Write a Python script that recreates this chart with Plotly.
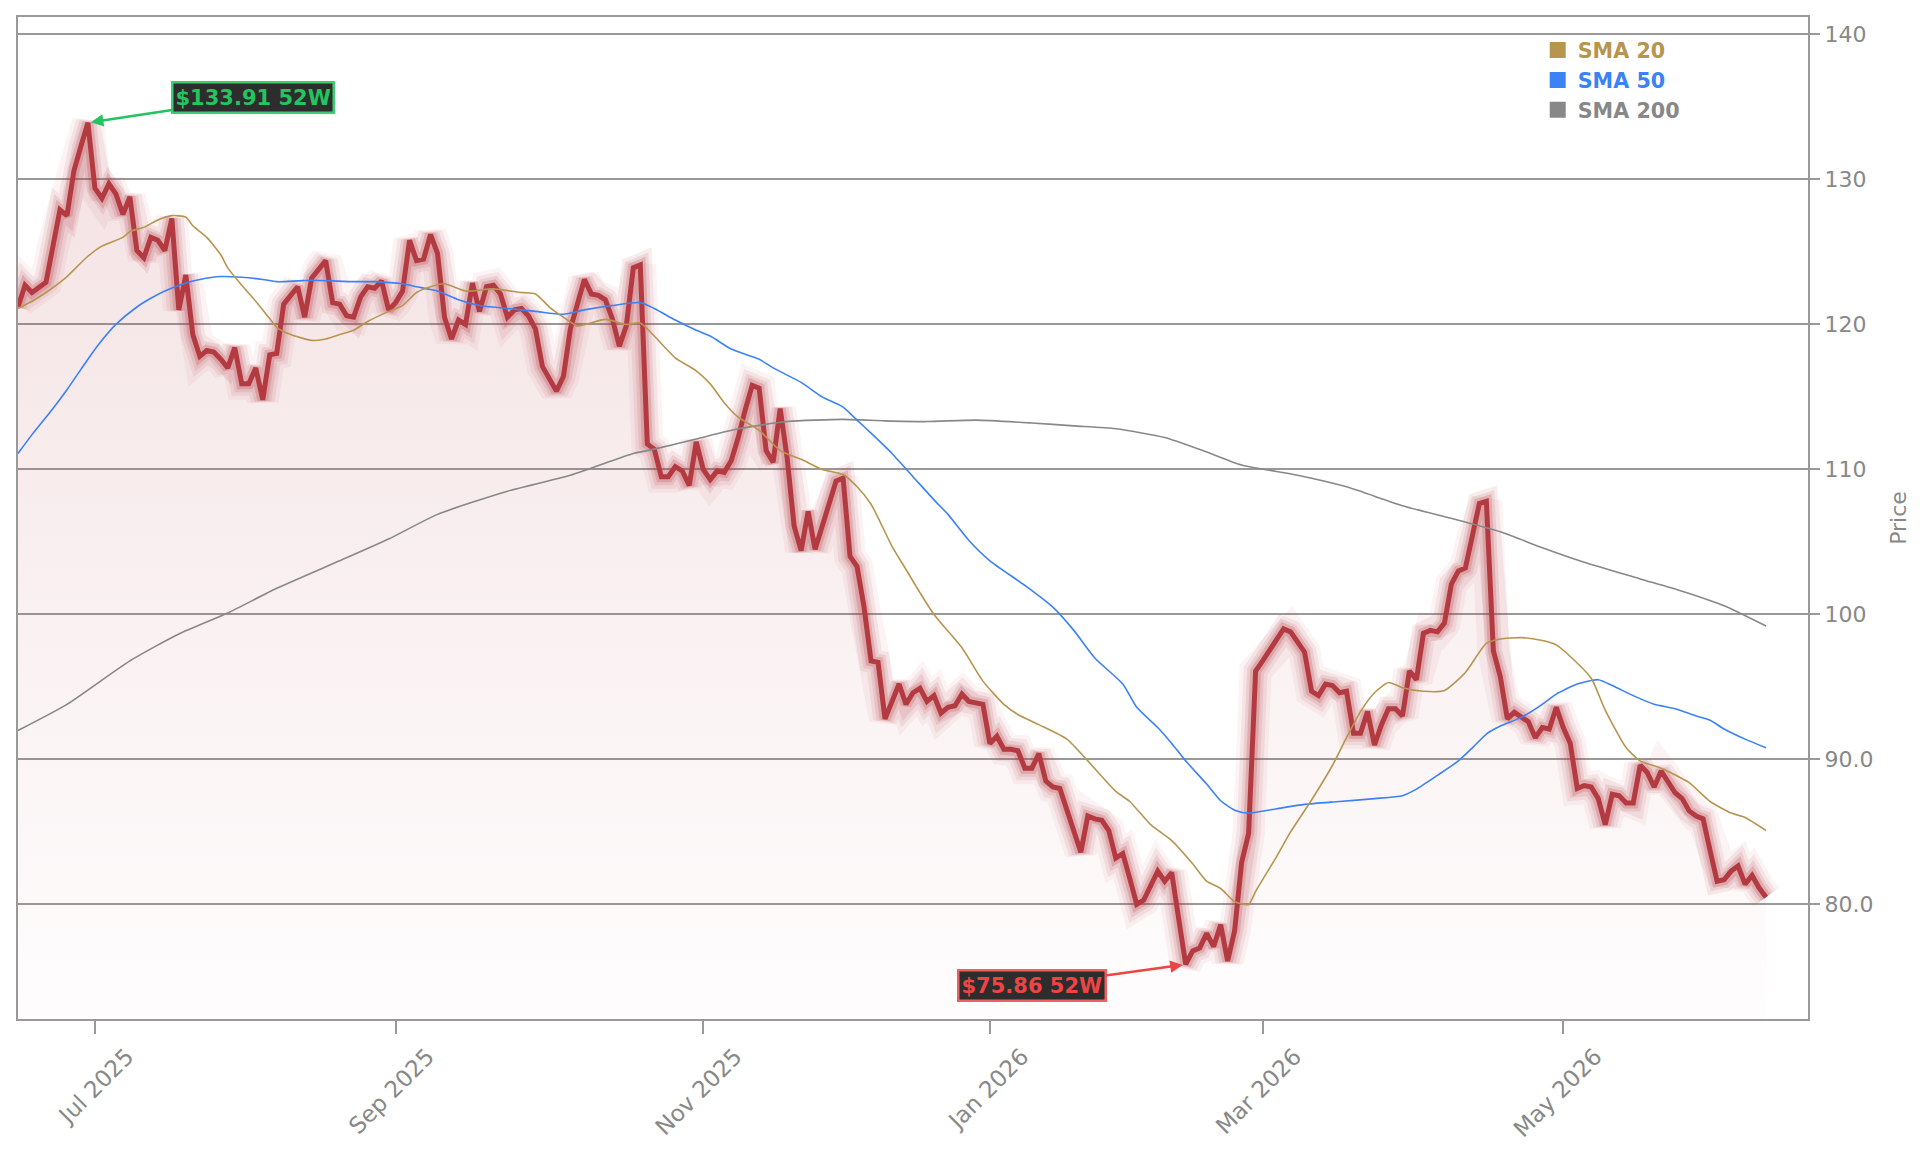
import pandas as pd
import plotly.graph_objects as go

# ---------------- data ----------------
start_date = "2025-06-13"
end_date = "2026-06-12"
holidays = ["2025-06-19", "2025-07-04", "2025-09-01", "2025-11-27", "2025-12-25",
            "2026-01-01", "2026-01-19", "2026-02-16", "2026-04-03", "2026-05-25",
            "2026-06-19"]

price = [
    121.2, 122.7, 122.2, 122.5, 122.9, 125.4, 127.9, 127.5, 130.6, 132.3,
    133.91, 129.4, 128.7, 129.7, 129.0, 127.6, 128.8, 125.1, 124.6, 126.0,
    125.8, 125.1, 127.3, 121.0, 123.4, 119.3, 117.8, 118.2, 118.1, 117.6,
    117.0, 118.4, 115.9, 115.9, 117.0, 114.8, 117.9, 118.0, 121.4, 122.0,
    122.6, 120.5, 123.2, 123.8, 124.4, 121.5, 121.4, 120.6, 120.5, 121.9,
    122.6, 122.5, 123.0, 121.0, 121.5, 122.3, 125.8, 124.4, 124.5, 126.2,
    124.9, 120.5, 119.0, 120.3, 120.0, 122.85, 120.9, 122.6, 122.7, 122.1,
    120.5, 121.0, 121.1, 120.6, 119.7, 117.1, 116.3, 115.4, 116.4, 119.7,
    121.4, 123.1, 122.1, 122.0, 121.7, 120.4, 118.5, 119.9, 123.9, 124.1,
    111.75, 111.4, 109.5, 109.5, 110.2, 109.9, 108.9, 111.9, 110.0, 109.3,
    109.9, 109.8, 110.6, 112.2, 114.1, 115.8, 115.6, 111.3, 110.5, 114.2,
    110.8, 106.1, 104.4, 107.1, 104.5, 106.1, 107.7, 109.2, 109.4, 104.0,
    103.3, 100.5, 96.8, 96.7, 92.8, 93.9, 95.2, 93.8, 94.6, 94.9,
    94.0, 94.4, 93.2, 93.6, 93.7, 94.5, 94.0, 93.9, 93.8, 91.1,
    91.6, 90.7, 90.7, 90.6, 89.4, 89.4, 90.4, 88.5, 88.1, 88.0,
    86.5, 85.0, 83.6, 86.1, 85.9, 85.8, 85.1, 83.2, 83.5, 81.8,
    80.0, 80.3, 81.3, 82.3, 81.6, 82.2, 79.0, 75.86, 76.8, 77.0,
    78.0, 77.1, 78.6, 76.1, 78.2, 82.9, 84.9, 96.1, 96.8, 97.5,
    98.3, 99.0, 98.8, 98.1, 97.4, 94.7, 94.4, 95.2, 95.1, 94.6,
    94.7, 91.8, 91.8, 93.3, 91.0, 92.4, 93.5, 93.5, 93.0, 96.1,
    95.5, 98.7, 98.9, 98.8, 99.4, 102.1, 103.0, 103.2, 105.3, 107.65,
    107.8, 97.5, 95.7, 92.8, 93.25, 92.9, 92.6, 91.5, 92.2, 92.1,
    93.6, 92.2, 91.1, 88.0, 88.2, 88.1, 87.3, 85.5, 87.6, 87.5,
    87.0, 87.0, 89.6, 89.1, 88.1, 89.2, 88.4, 87.7, 87.3, 86.45,
    86.1, 85.9, 83.7, 81.6, 81.7, 82.3, 82.65, 81.4, 82.0, 81.15,
    80.5,
]

sma20_idx = [0, 2, 4, 6, 7, 10, 12, 15, 16, 18, 20, 22, 24, 25, 27, 29, 30, 32, 34, 36,
             37, 39, 42, 44, 46, 48, 50, 53, 55, 57, 59, 61, 64, 68, 72, 74, 76, 78, 80, 84,
             87, 89, 91, 94, 97, 99, 101, 103, 106, 109, 112, 115, 118, 120, 122, 125, 127, 129, 131, 135,
             138, 141, 143, 146, 150, 153, 157, 159, 162, 165, 168, 170, 172, 174, 176, 177, 180, 182, 185, 188,
             190, 192, 194, 196, 198, 201, 204, 207, 210, 212, 215, 218, 220, 222, 225, 227, 230, 232, 235, 239,
             242, 245, 247, 250]
sma20_val = [121.1, 121.6, 122.2, 122.9, 123.3, 124.7, 125.4, 126.0, 126.4, 126.7, 127.2, 127.5, 127.4, 126.8, 126.0, 124.8, 123.9, 122.7, 121.6, 120.4,
             119.8, 119.3, 118.9, 119.0, 119.3, 119.6, 120.2, 120.9, 121.3, 122.2, 122.6, 122.8, 122.3, 122.45, 122.2, 122.1, 121.2, 120.5, 119.9, 120.35,
             120.0, 120.1, 119.2, 117.7, 116.8, 115.9, 114.6, 113.6, 112.7, 111.3, 110.7, 110.0, 109.65, 108.8, 107.6, 104.7, 103.1, 101.5, 100.0, 97.7,
             95.4, 93.8, 93.1, 92.4, 91.4, 89.9, 87.8, 87.1, 85.5, 84.4, 82.8, 81.6, 81.1, 80.2, 80.0, 80.9, 83.3, 85.0, 87.2, 89.6,
             91.5, 93.3, 94.6, 95.3, 94.95, 94.7, 94.75, 96.0, 98.0, 98.3, 98.4, 98.2, 97.9, 97.1, 95.6, 93.4, 90.8, 89.9, 89.4, 88.4,
             87.1, 86.3, 86.0, 85.1]

sma50_idx = [0, 2, 4, 5, 7, 9, 10, 12, 14, 17, 19, 21, 24, 26, 29, 32, 35, 37, 40, 42, 45, 48,
             51, 55, 57, 60, 63, 66, 70, 74, 78, 81, 85, 89, 91, 94, 97, 99, 102, 106, 108, 112,
             115, 118, 120, 122, 125, 128, 131, 133, 136, 139, 144, 148, 151, 154, 158, 160, 163, 165, 167, 170,
             172, 174, 176, 180, 184, 189, 194, 198, 200, 203, 206, 208, 210, 212, 215, 218, 220, 223, 226, 228,
             231, 234, 237, 240, 242, 244, 247, 250]
sma50_val = [111.1, 112.4, 113.6, 114.2, 115.5, 116.9, 117.6, 118.9, 120.0, 121.2, 121.8, 122.3, 122.85, 123.1, 123.3, 123.25, 123.1, 122.95, 123.0, 123.05, 123.0, 122.95,
             122.95, 122.8, 122.6, 122.3, 121.7, 121.3, 121.1, 120.9, 120.7, 121.0, 121.3, 121.5, 121.1, 120.3, 119.6, 119.2, 118.3, 117.6, 117.0, 116.0,
             115.0, 114.3, 113.4, 112.5, 111.1, 109.5, 107.9, 106.9, 105.1, 103.7, 102.0, 100.5, 98.9, 97.0, 95.2, 93.6, 92.2, 91.1, 89.9, 88.3,
             87.15, 86.5, 86.3, 86.6, 86.9, 87.1, 87.3, 87.5, 87.95, 88.9, 89.9, 90.8, 91.75, 92.3, 92.9, 93.8, 94.5, 95.2, 95.5, 95.1,
             94.4, 93.8, 93.5, 93.0, 92.7, 92.1, 91.4, 90.8]

sma200_idx = [0, 7, 16, 23, 30, 37, 46, 53, 60, 70, 79, 88, 91, 97, 103, 110, 118, 124, 130, 137,
              145, 151, 157, 164, 170, 175, 183, 190, 198, 206, 212, 218, 224, 232, 238, 244, 250]
sma200_val = [92.0, 93.8, 96.8, 98.65, 100.1, 101.8, 103.7, 105.2, 106.9, 108.5, 109.6, 111.1, 111.4, 112.1, 112.8, 113.3, 113.45, 113.35, 113.3, 113.4,
              113.2, 113.0, 112.8, 112.2, 111.2, 110.3, 109.6, 108.8, 107.5, 106.5, 105.7, 104.6, 103.6, 102.45, 101.6, 100.6, 99.2]

high_idx, high_val = 10, 133.91
low_idx, low_val = 167, 75.86
x_end = "2026-06-23"

# ---------------- figure ----------------
dates = [d.strftime("%Y-%m-%d") for d in pd.bdate_range(start_date, end_date)
         if d.strftime("%Y-%m-%d") not in holidays]

RED = "#b43a42"
GOLD = "#b8954f"
BLUE = "#3b82f6"
GRAY = "#888888"
FONT = "DejaVu Sans"

fig = go.Figure()

# gradient fill under price
fig.add_trace(go.Scatter(
    x=dates, y=price, mode="lines", line=dict(width=0, color="rgba(0,0,0,0)"),
    fill="tozeroy",
    fillgradient=dict(type="vertical",
                      colorscale=[[0, "rgba(180,58,66,0.01)"], [1, "rgba(180,58,66,0.15)"]],
                      start=72, stop=134),
    hoverinfo="skip", showlegend=False))

# glow layers
for w, a in [(32, 0.06), (24, 0.09), (17, 0.13), (11, 0.22)]:
    fig.add_trace(go.Scatter(x=dates, y=price, mode="lines",
                             line=dict(width=w, color=f"rgba(180,58,66,{a})"),
                             hoverinfo="skip", showlegend=False))

# price line
fig.add_trace(go.Scatter(x=dates, y=price, mode="lines", name="Price",
                         line=dict(width=5, color=RED), showlegend=False))

# SMA lines
for idx, val, col, grp in [(sma200_idx, sma200_val, GRAY, "s200"),
                           (sma50_idx, sma50_val, BLUE, "s50"),
                           (sma20_idx, sma20_val, GOLD, "s20")]:
    fig.add_trace(go.Scatter(x=[dates[k] for k in idx], y=val, mode="lines",
                             line=dict(width=1.6, color=col, shape="spline", smoothing=0.6),
                             showlegend=False, legendgroup=grp))

# legend entries (square markers)
for name, col, grp in [("SMA 20", GOLD, "s20"), ("SMA 50", BLUE, "s50"), ("SMA 200", GRAY, "s200")]:
    fig.add_trace(go.Scatter(x=[None], y=[None], mode="markers",
                             marker=dict(symbol="square", size=16, color=col),
                             name=f"<span style='color:{col}'><b>{name}</b></span>",
                             legendgroup=grp, showlegend=True))

# 52W annotations
fig.add_annotation(x=dates[high_idx], y=high_val, xref="x", yref="y",
                   text=f"<b>${high_val:.2f} 52W</b>", showarrow=True,
                   ax=165, ay=-25, arrowcolor="#22c55e", arrowwidth=2.5, arrowhead=2,
                   arrowsize=1, standoff=3,
                   font=dict(family=FONT, size=21, color="#22c55e"),
                   bgcolor="#2d2d2d", bordercolor="#3ccf72", borderwidth=2.5, borderpad=2)
fig.add_annotation(x=dates[low_idx], y=low_val, xref="x", yref="y",
                   text=f"<b>${low_val:.2f} 52W</b>", showarrow=True,
                   ax=-154, ay=21, arrowcolor="#ef4444", arrowwidth=2.5, arrowhead=2,
                   arrowsize=1, standoff=3,
                   font=dict(family=FONT, size=21, color="#ef4444"),
                   bgcolor="#2d2d2d", bordercolor="#f06060", borderwidth=2.5, borderpad=2)

fig.update_layout(
    width=1929, height=1153,
    margin=dict(l=18, r=121, t=17, b=134),
    paper_bgcolor="white", plot_bgcolor="white",
    font=dict(family=FONT, size=22, color=GRAY),
    showlegend=True,
    legend=dict(x=0.849, y=0.987, xanchor="left", yanchor="top",
                bgcolor="rgba(0,0,0,0)", font=dict(family=FONT, size=20.7),
                tracegroupgap=0, itemclick=False),
    hovermode="x",
)

fig.update_xaxes(
    type="date",
    range=[dates[0], x_end],
    rangebreaks=[dict(bounds=["sat", "mon"]), dict(values=holidays)],
    dtick="M2", tick0="2025-01-01", tickformat="%b %Y", tickangle=-45,
    ticklabelshift=32,
    showgrid=False, showline=True, linecolor="#999999", linewidth=2, mirror=True,
    ticks="outside", ticklen=13, tickcolor="#999999", tickwidth=1.5,
    tickfont=dict(family=FONT, size=23, color=GRAY),
    zeroline=False,
)
fig.update_yaxes(
    side="right", range=[72.1, 141.2], dtick=10, tick0=0, tickformat=".3r",
    showgrid=True, gridcolor="#999999", gridwidth=1.5,
    showline=True, linecolor="#999999", linewidth=2, mirror=True,
    ticks="outside", ticklen=10, tickcolor="#999999", tickwidth=1.5,
    tickfont=dict(family=FONT, size=22, color=GRAY),
    title=dict(text="Price", font=dict(family=FONT, size=22, color=GRAY), standoff=18),
    zeroline=False,
)

fig.write_html("out.html")
